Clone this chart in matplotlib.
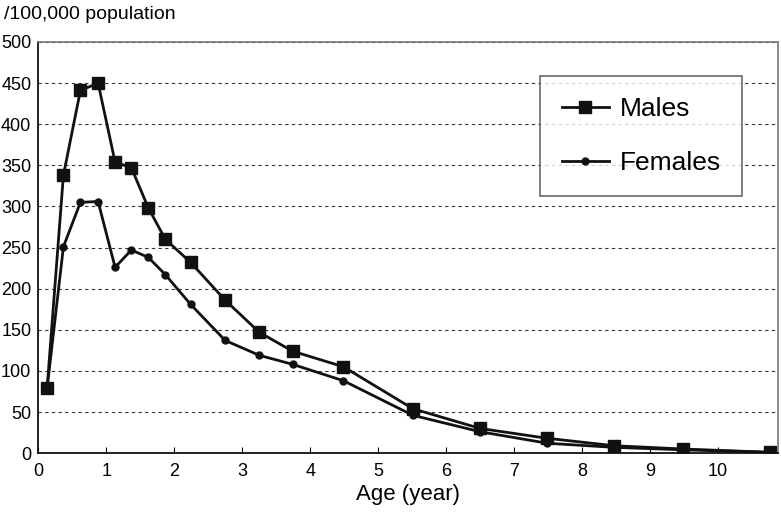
import matplotlib.pyplot as plt

plt.rcParams['font.family'] = ['Liberation Sans', 'DejaVu Sans']

# age (year) at each point
age = [0.13, 0.37, 0.62, 0.88, 1.13, 1.37, 1.62, 1.87, 2.24, 2.75,
       3.25, 3.74, 4.49, 5.51, 6.5, 7.49, 8.47, 9.49, 10.76]

# incidence per 100,000 population
males = [79, 338, 441, 450, 354, 347, 298, 260, 232, 186,
         147, 124, 105, 54, 30, 18, 9, 5, 1]
females = [79, 251, 305, 306, 226, 247, 238, 217, 181, 137,
           119, 108, 88, 46, 26, 12, 7, 4, 1]

x_ticks = list(range(0, 11))
y_ticks = list(range(0, 501, 50))

fig = plt.figure(figsize=(7.81, 5.12), dpi=100)
ax = fig.add_axes([0.049, 0.115, 0.947, 0.803])

ax.plot(age, males, color='#111111', lw=2, marker='s', ms=8, label='Males')
ax.plot(age, females, color='#111111', lw=2, marker='o', ms=5, label='Females')

ax.set_xlim(0, 10.88)
ax.set_ylim(0, 500)
ax.set_xticks(x_ticks)
ax.set_yticks(y_ticks)
ax.tick_params(axis='x', direction='in', length=4, labelsize=13, pad=7)
ax.tick_params(axis='y', length=0, labelsize=13, pad=5)
ax.yaxis.grid(True, ls=(0, (3, 3)), color='#333333', lw=0.8)
ax.set_axisbelow(True)

for s in ['top', 'right']:
    ax.spines[s].set_color('#777777')
    ax.spines[s].set_linewidth(1.2)
for s in ['left', 'bottom']:
    ax.spines[s].set_color('#111111')
    ax.spines[s].set_linewidth(1.3)

ax.set_xlabel('Age (year)', fontsize=16, labelpad=3)
fig.text(0.005, 0.972, '/100,000 population', fontsize=14, va='center')

leg = ax.legend(loc='upper left', bbox_to_anchor=(0.679, 0.918), fontsize=19,
                frameon=True, fancybox=False, edgecolor='#444444',
                borderpad=0.8, labelspacing=1.15, handlelength=1.8,
                handletextpad=0.4, borderaxespad=0)
leg.get_frame().set_linewidth(1.2)

fig.savefig('out.png', dpi=100)
